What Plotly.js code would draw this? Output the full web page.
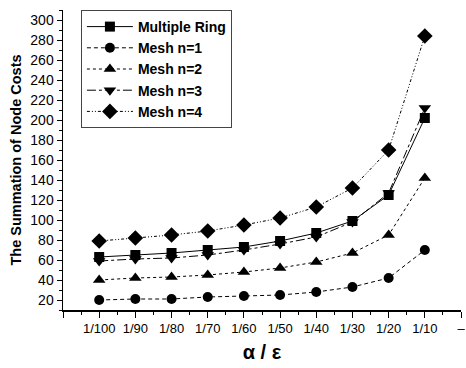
<!DOCTYPE html>
<html><head><meta charset="utf-8">
<script src="https://cdn.plot.ly/plotly-3.0.1.min.js"></script>
<style>html,body{margin:0;padding:0;background:#fff}#c{width:466px;height:368px}</style>
</head><body><div id="c"></div>
<script>
const categories = ["1/100","1/90","1/80","1/70","1/60","1/50","1/40","1/30","1/20","1/10"];
const multipleRing = [63, 65, 67, 70, 73, 79, 87, 99, 125, 202];
const mesh1 = [20, 21, 21, 23, 24, 25, 28, 33, 42, 70];
const mesh2 = [40, 42, 43, 45, 48, 52, 58, 67, 85, 142];
const mesh3 = [59, 61, 62, 65, 70, 76, 83, 98, 127, 212];
const mesh4 = [79, 82, 85, 89, 95, 102, 113, 132, 170, 284];
const seriesNames = ["Multiple Ring","Mesh n=1","Mesh n=2","Mesh n=3","Mesh n=4"];
const yTicks = [20,40,60,80,100,120,140,160,180,200,220,240,260,280,300];

const xPos = categories.map((_, i) => i + 1);
const specs = [
  {y: multipleRing, sym: "square", dash: "solid", size: 10},
  {y: mesh1, sym: "circle", dash: "4px,3px", size: 10},
  {y: mesh2, sym: "triangle-up", dash: "dot", size: 11},
  {y: mesh3, sym: "triangle-down", dash: "dashdot", size: 11},
  {y: mesh4, sym: "diamond", dash: "3px,2px,1px,2px,1px,2px", size: 12}
];
const traces = specs.map((s, k) => ({
  x: xPos, y: s.y, name: seriesNames[k], type: "scatter", mode: "lines+markers",
  line: {color: "#000", width: 1, dash: s.dash},
  marker: {symbol: s.sym, size: s.size, color: "#000"}
}));

const layout = {
  width: 466, height: 368,
  margin: {l: 63, r: 5, t: 10, b: 58},
  paper_bgcolor: "#fff", plot_bgcolor: "#fff",
  font: {family: "Liberation Sans, Arial, sans-serif", color: "#000"},
  showlegend: true,
  legend: {
    x: 0.045, y: 1, xanchor: "left", yanchor: "top",
    bgcolor: "#fff", bordercolor: "#444", borderwidth: 1,
    font: {size: 14, family: "Liberation Sans, Arial, sans-serif", weight: "bold"},
    itemwidth: 46, tracegroupgap: 0
  },
  xaxis: {
    range: [0, 11], showgrid: false, zeroline: false,
    showline: true, linecolor: "#000", linewidth: 1.5,
    tickmode: "array",
    tickvals: [0].concat(xPos).concat([11]),
    ticktext: [""].concat(categories).concat(["–"]),
    ticks: "outside", ticklen: 6, tickcolor: "#000",
    tickfont: {size: 13},
    minor: {dtick: 0.5, tick0: 0, ticks: "outside", ticklen: 3, tickcolor: "#000"},
    title: {text: "α / ε", font: {size: 20, weight: "bold"}, standoff: 10}
  },
  yaxis: {
    range: [10, 310], showgrid: false, zeroline: false,
    showline: true, linecolor: "#000", linewidth: 1.5,
    tickmode: "array", tickvals: yTicks,
    ticks: "outside", ticklen: 5, tickcolor: "#000",
    tickfont: {size: 14},
    minor: {dtick: 10, tick0: 0, ticks: "outside", ticklen: 3, tickcolor: "#000"},
    title: {text: "The Summation of Node Costs", font: {size: 14.5, weight: "bold"}, standoff: 5}
  }
};
Plotly.newPlot("c", traces, layout, {displayModeBar: false, staticPlot: true});
</script></body></html>
